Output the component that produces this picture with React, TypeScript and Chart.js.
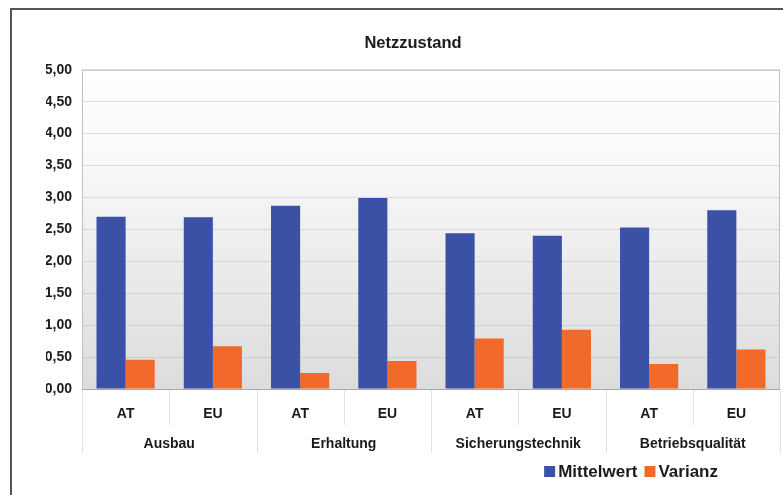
import React, { useEffect, useRef } from "react";
import { Chart, registerables } from "chart.js";

Chart.register(...registerables);

const title = "Netzzustand";
const groups = ["Ausbau", "Erhaltung", "Sicherungstechnik", "Betriebsqualität"];
const regions = ["AT", "EU", "AT", "EU", "AT", "EU", "AT", "EU"];
const seriesNames = ["Mittelwert", "Varianz"];
const mittelwert = [2.7, 2.69, 2.87, 2.99, 2.44, 2.4, 2.53, 2.8];
const varianz = [0.46, 0.67, 0.25, 0.44, 0.79, 0.93, 0.39, 0.62];
const colors = ["#3A51A6", "#F26A2B"];

const FONT = "'Liberation Sans', Arial, Helvetica, sans-serif";

const decorPlugin = {
  id: "decor",
  beforeDraw(chart: any) {
    const { ctx, chartArea: a, width, height } = chart;
    ctx.save();
    ctx.fillStyle = "#ffffff";
    ctx.fillRect(0, 0, width, height);
    // frame
    ctx.strokeStyle = "#555555";
    ctx.lineWidth = 2;
    ctx.beginPath();
    ctx.moveTo(11, height + 2);
    ctx.lineTo(11, 9);
    ctx.lineTo(width + 2, 9);
    ctx.stroke();
    // plot background gradient
    const g = ctx.createLinearGradient(0, a.top, 0, a.bottom);
    g.addColorStop(0, "#ffffff");
    g.addColorStop(0.25, "#fafafa");
    g.addColorStop(1, "#dcdcdc");
    ctx.fillStyle = g;
    ctx.fillRect(a.left, a.top, a.right - a.left, a.bottom - a.top);
    ctx.restore();
  },
  afterDraw(chart: any) {
    const { ctx, chartArea: a } = chart;
    const xs = chart.scales.x;
    ctx.save();
    // plot border
    ctx.strokeStyle = "#c0c0c0";
    ctx.lineWidth = 1;
    ctx.strokeRect(a.left + 0.5, a.top + 0.5, a.right - a.left - 1, a.bottom - a.top);
    // axis line
    ctx.strokeStyle = "#a8a8a8";
    ctx.beginPath();
    ctx.moveTo(a.left, a.bottom + 0.5);
    ctx.lineTo(a.right, a.bottom + 0.5);
    ctx.stroke();
    // separators
    ctx.strokeStyle = "#e2e2e2";
    const n = regions.length;
    for (let i = 0; i <= n; i++) {
      let x;
      if (i === 0) x = a.left;
      else if (i === n) x = a.right;
      else x = (xs.getPixelForTick(i - 1) + xs.getPixelForTick(i)) / 2;
      const long = i % 2 === 0;
      ctx.beginPath();
      ctx.moveTo(Math.round(x) + 0.5, a.bottom + 1);
      ctx.lineTo(Math.round(x) + 0.5, a.bottom + (long ? 64 : 36));
      ctx.stroke();
    }
    // group labels
    ctx.fillStyle = "#1a1a1a";
    ctx.font = `bold 14px ${FONT}`;
    ctx.textAlign = "center";
    ctx.textBaseline = "middle";
    groups.forEach((gname, gi) => {
      const x = (xs.getPixelForTick(gi * 2) + xs.getPixelForTick(gi * 2 + 1)) / 2;
      ctx.fillText(gname, x, a.bottom + 55);
    });
    // legend
    ctx.font = `bold 17px ${FONT}`;
    ctx.textAlign = "left";
    const box = 11;
    const items = chart.data.datasets.map((d: any) => ({
      label: d.label,
      color: d.backgroundColor,
      w: ctx.measureText(d.label).width,
    }));
    const gapBox = 3;
    const gapItem = 7;
    let total = 0;
    items.forEach((it: any, i: number) => {
      total += box + gapBox + it.w + (i < items.length - 1 ? gapItem : 0);
    });
    let x = 718 - total;
    const y = 472;
    items.forEach((it: any) => {
      ctx.fillStyle = it.color;
      ctx.fillRect(x, y - box / 2 - 0.5, box, box);
      x += box + gapBox;
      ctx.fillStyle = "#1a1a1a";
      ctx.fillText(it.label, x, y);
      x += it.w + gapItem;
    });
    ctx.restore();
  },
};

export default function App() {
  const ref = useRef<HTMLCanvasElement | null>(null);
  useEffect(() => {
    if (!ref.current) return;
    const chart = new Chart(ref.current, {
      type: "bar",
      data: {
        labels: regions,
        datasets: [
          {
            label: seriesNames[0],
            data: mittelwert,
            backgroundColor: colors[0],
            categoryPercentage: 0.667,
            barPercentage: 1.0,
          },
          {
            label: seriesNames[1],
            data: varianz,
            backgroundColor: colors[1],
            categoryPercentage: 0.667,
            barPercentage: 1.0,
          },
        ],
      },
      options: {
        animation: false,
        responsive: false,
        layout: { padding: { left: 46, right: 3, top: 0, bottom: 46 } },
        plugins: {
          legend: { display: false },
          tooltip: { enabled: false },
          title: {
            display: true,
            text: title,
            color: "#1a1a1a",
            font: { family: FONT, size: 16.5, weight: "bold" },
            padding: { top: 34, bottom: 16 },
          },
        },
        scales: {
          x: {
            grid: { display: false, drawTicks: false },
            border: { display: false },
            ticks: {
              color: "#1a1a1a",
              font: { family: FONT, size: 14, weight: "bold" },
              padding: 17,
              maxRotation: 0,
            },
            afterFit: (s: any) => {
              s.height = 60;
            },
          },
          y: {
            min: 0,
            max: 5,
            grid: { color: "rgba(170,170,170,0.35)", drawTicks: false },
            border: { display: false },
            ticks: {
              stepSize: 0.5,
              color: "#1a1a1a",
              font: { family: FONT, size: 14, weight: "bold" },
              padding: 10,
              callback: (v: any) => Number(v).toFixed(2).replace(".", ","),
            },
            afterFit: (s: any) => {
              s.width = 36;
            },
          },
        },
      },
      plugins: [decorPlugin],
    });
    return () => chart.destroy();
  }, []);
  return (
    <div style={{ position: "absolute", left: 0, top: 0, width: 783, height: 495, overflow: "hidden" }}>
      <canvas ref={ref} width={783} height={495} style={{ display: "block" }} />
    </div>
  );
}
